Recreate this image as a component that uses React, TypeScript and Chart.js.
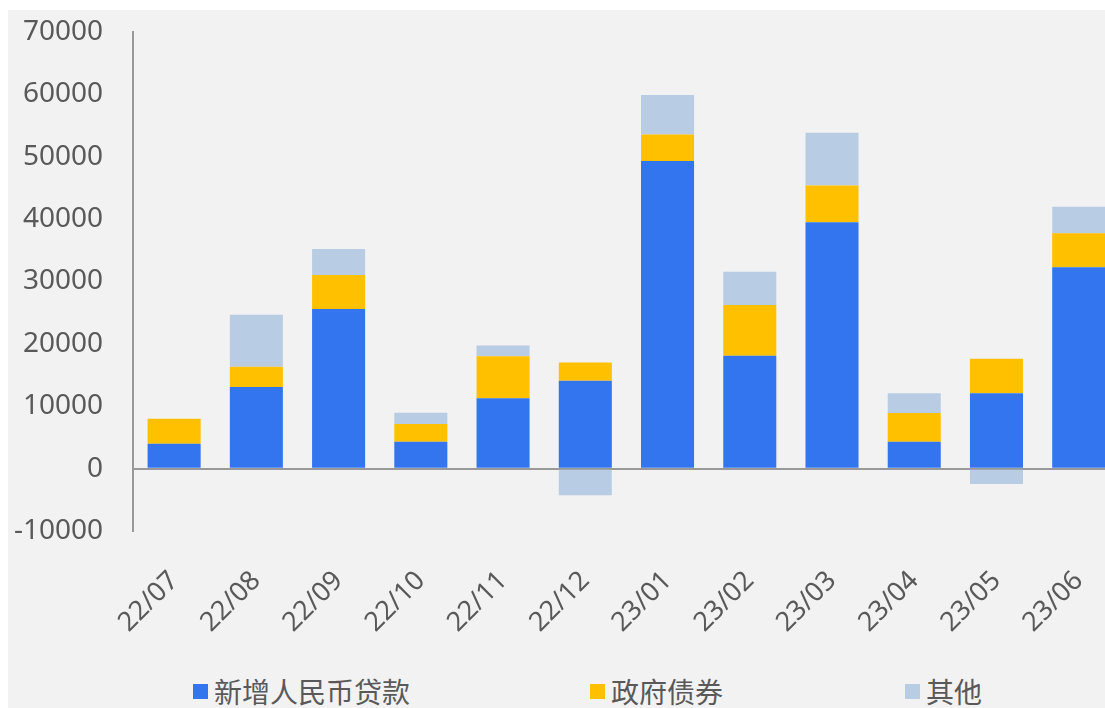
import React, { useEffect, useRef } from "react";
import { Chart, registerables } from "chart.js";

Chart.register(...registerables);

const categories = ["22/07", "22/08", "22/09", "22/10", "22/11", "22/12", "23/01", "23/02", "23/03", "23/04", "23/05", "23/06"];
const newLoans = [4000, 13100, 25600, 4300, 11300, 14100, 49300, 18100, 39500, 4300, 12100, 32300];
const govBonds = [4000, 3250, 5450, 2850, 6700, 2900, 4250, 8150, 5900, 4600, 5500, 5450];
const others = [0, 8300, 4150, 1800, 1750, -4250, 6350, 5300, 8450, 3200, -2450, 4250];
const seriesNames = ["新增人民币贷款", "政府债券", "其他"];
const seriesColors = ["#3375EE", "#FFC000", "#B8CCE4"];
const yMin = -10000;
const yMax = 70000;
const yStep = 10000;

const FONT = "'Noto Sans', 'Noto Sans CJK SC', sans-serif";
const TEXT = "#595959";
const AXIS = "#999999";

export default function App() {
  const ref = useRef<HTMLCanvasElement | null>(null);

  useEffect(() => {
    document.body.style.overflow = "hidden";
    if (!ref.current) return;
    const values = [newLoans, govBonds, others];
    const chart = new Chart(ref.current, {
      type: "bar",
      data: {
        labels: categories,
        datasets: values.map((d, i) => ({
          label: seriesNames[i],
          data: d,
          backgroundColor: seriesColors[i],
          borderWidth: 0,
          categoryPercentage: 1,
          barPercentage: 0.645,
        })),
      },
      options: {
        animation: false,
        responsive: false,
        maintainAspectRatio: false,
        layout: { padding: { top: 0, right: 9, left: 0, bottom: 0 } },
        plugins: { legend: { display: false }, tooltip: { enabled: false } },
        scales: {
          x: {
            stacked: true,
            grid: { display: false, drawTicks: false },
            border: { display: false },
            afterFit: (s: any) => { s.height = 139; },
            ticks: {
              autoSkip: false,
              minRotation: 45,
              maxRotation: 45,
              padding: 34,
              color: TEXT,
              font: { family: FONT, size: 27 },
            },
          },
          y: {
            stacked: true,
            min: yMin,
            max: yMax,
            afterFit: (s: any) => {
              s.width = 125;
              s.paddingTop = 22;
              s.paddingBottom = 10;
            },
            grid: {
              drawTicks: false,
              lineWidth: 2,
              color: (c: any) => (c.tick && c.tick.value === 0 ? AXIS : "rgba(0,0,0,0)"),
            },
            border: { display: true, color: AXIS, width: 2 },
            ticks: {
              stepSize: yStep,
              padding: 30,
              color: TEXT,
              font: { family: FONT, size: 28 },
              callback: (v: any) => String(v),
            },
          },
        },
      },
    });
    return () => chart.destroy();
  }, []);

  const legendLefts = [185, 582, 897];

  return (
    <div
      style={{
        position: "absolute",
        left: 8,
        top: 10,
        width: 1097,
        height: 698,
        overflow: "hidden",
        background: "#F2F2F2",
      }}
    >
      <canvas ref={ref} width={1128} height={660} style={{ display: "block", width: 1128, height: 660 }} />
      {seriesNames.map((n, i) => (
        <div
          key={n}
          style={{
            position: "absolute",
            left: legendLefts[i],
            top: 663,
            height: 36,
            display: "flex",
            alignItems: "center",
            fontFamily: "'Noto Sans CJK SC', sans-serif",
            fontSize: 28,
            color: TEXT,
            whiteSpace: "nowrap",
          }}
        >
          <span style={{ display: "inline-block", width: 15, height: 15, background: seriesColors[i], marginRight: 6 }} />
          <span>{n}</span>
        </div>
      ))}
    </div>
  );
}
